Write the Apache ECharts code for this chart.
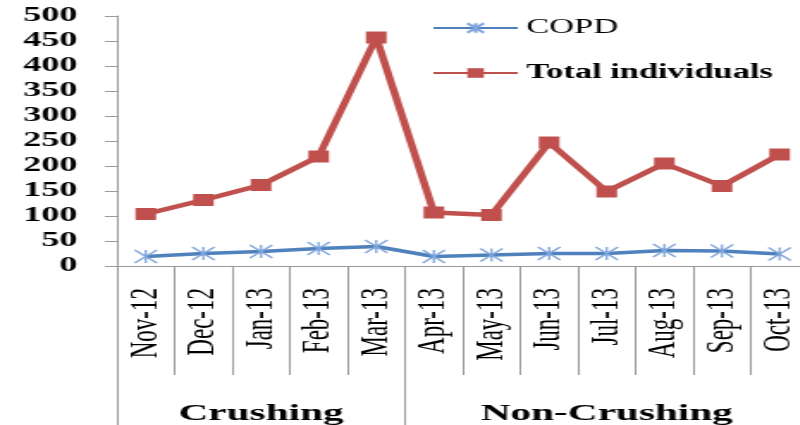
<!DOCTYPE html>
<html>
<head>
<meta charset="utf-8">
<script src="https://cdn.jsdelivr.net/npm/echarts@6/dist/echarts.min.js"></script>
<style>
  html, body { margin: 0; padding: 0; background: #fff; overflow: hidden; }
  /* the original picture is stretched sideways, so draw narrow and stretch */
  #main { width: 470px; height: 425px; transform: scaleX(1.72); transform-origin: 0 0; }
</style>
</head>
<body>
<div id="main"></div>
<script>
var months = ['Nov-12','Dec-12','Jan-13','Feb-13','Mar-13','Apr-13','May-13','Jun-13','Jul-13','Aug-13','Sep-13','Oct-13'];
var copd = [19, 25, 29, 35, 39, 19, 22, 25, 25, 31, 30, 24];
var totalIndividuals = [104, 132, 162, 219, 457, 107, 102, 247, 149, 205, 160, 223];
var groupNames = ['Crushing', 'Non-Crushing'];
var groupSizes = [5, 7];
var yTicks = [0, 500, 50]; // min, max, interval

// second category row: one label in the middle of each group, ticks at group starts
var groupLabels = [];
var groupStarts = {};
var pos = 0;
for (var g = 0; g < groupNames.length; g++) {
    groupStarts[pos] = true;
    for (var k = 0; k < groupSizes[g]; k++) {
        groupLabels.push(k === Math.floor(groupSizes[g] / 2) ? groupNames[g] : '');
    }
    pos += groupSizes[g];
}

var serif = '"Liberation Serif", "Times New Roman", serif';
var myChart = echarts.init(document.getElementById('main'));

var option = {
    animation: false,
    backgroundColor: '#fff',
    grid: { left: 68, right: 0, top: 16, bottom: 159, outerBoundsMode: 'none' },
    legend: {
        orient: 'vertical',
        left: 246,
        top: 13,
        itemGap: 25,
        itemWidth: 49,
        itemHeight: 12,
        textStyle: { fontFamily: serif, fontSize: 20, color: '#000' },
        data: [
            { name: 'COPD', textStyle: { fontWeight: 'normal' } },
            { name: 'Total individuals', textStyle: { fontWeight: 'bold' } }
        ]
    },
    xAxis: [
        {
            type: 'category',
            data: months,
            axisLine: { show: true, lineStyle: { color: '#9a9a9a', width: 1 } },
            axisTick: { show: true, length: 109, interval: 0, lineStyle: { color: '#9a9a9a', width: 1 } },
            axisLabel: {
                interval: 0,
                rotate: 90,
                margin: 22,
                fontFamily: serif,
                fontSize: 23,
                color: '#000'
            }
        },
        {
            type: 'category',
            position: 'bottom',
            data: groupLabels,
            axisLine: { show: false },
            axisTick: {
                show: true,
                length: 159,
                interval: function (index) { return groupStarts[index] === true; },
                lineStyle: { color: '#9a9a9a', width: 1 }
            },
            axisLabel: {
                interval: 0,
                margin: 136,
                fontFamily: serif,
                fontSize: 24,
                fontWeight: 'bold',
                color: '#000'
            }
        }
    ],
    yAxis: {
        type: 'value',
        min: yTicks[0],
        max: yTicks[1],
        interval: yTicks[2],
        splitLine: { show: false },
        axisLine: { show: true, lineStyle: { color: '#9a9a9a', width: 1 } },
        axisTick: { show: true, length: 7, lineStyle: { color: '#9a9a9a' } },
        axisLabel: {
            margin: 23,
            fontFamily: serif,
            fontSize: 21,
            fontWeight: 'bold',
            color: '#000'
        }
    },
    series: [
        {
            name: 'COPD',
            type: 'line',
            data: copd,
            symbol: 'path://M0,-1L0,1M-1,-1L1,1M-1,1L1,-1',
            symbolSize: 13,
            lineStyle: { color: '#4F81BD', width: 3.5 },
            itemStyle: { color: '#4F81BD', borderColor: '#7FA6DB', borderWidth: 1.3 }
        },
        {
            name: 'Total individuals',
            type: 'line',
            data: totalIndividuals,
            symbol: 'rect',
            symbolSize: 12,
            lineStyle: { color: '#C0504D', width: 4.5 },
            itemStyle: { color: '#C0504D' }
        }
    ]
};

myChart.setOption(option);
</script>
</body>
</html>
